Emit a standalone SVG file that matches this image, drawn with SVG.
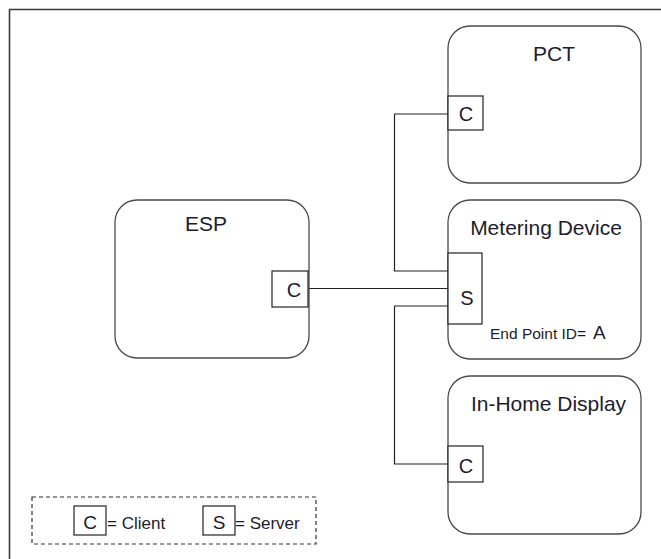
<svg xmlns="http://www.w3.org/2000/svg" width="661" height="559" viewBox="0 0 661 559">
<style>
.frame{fill:none;stroke:#3a3a3a;stroke-width:1.6}
.node{fill:#fff;stroke:#4a4a4a;stroke-width:1.3}
.port{fill:#fff;stroke:#222;stroke-width:1.2}
.wire{fill:none;stroke:#222;stroke-width:1.2}
.t{font-family:"Liberation Sans",Arial,sans-serif;fill:#1c1c2c}
.title{font-size:21px;text-anchor:middle}
.pl{font-size:20px;text-anchor:middle}
.small{font-size:15.5px}
.leg{font-size:17px}
</style>
<rect width="661" height="559" fill="#fff"/>
<path class="frame" d="M9.5,559 V9.5 H661"/>
<g id="connectors">
<path class="wire" d="M308,288.5 H448"/>
<path class="wire" d="M448,114 H394.5 V271 H448"/>
<path class="wire" d="M448,306 H394.5 V464 H448"/>
</g>
<g id="pct">
<rect class="node" x="448" y="26" width="193" height="157" rx="22"/>
<text class="t title" x="554" y="61">PCT</text>
<rect class="port" x="448" y="96" width="35" height="34"/>
<text class="t pl" x="466" y="121">C</text>
</g>
<g id="esp">
<rect class="node" x="115" y="200" width="194" height="158" rx="22"/>
<text class="t title" x="206" y="231">ESP</text>
<rect class="port" x="272" y="271" width="36" height="36"/>
<text class="t pl" x="294" y="297">C</text>
</g>
<g id="metering">
<rect class="node" x="448" y="200" width="193" height="159" rx="22"/>
<text class="t title" x="546" y="235">Metering Device</text>
<rect class="port" x="448" y="253" width="34" height="71"/>
<text class="t pl" x="467" y="305">S</text>
<text class="t small" x="490" y="339">End Point ID=</text>
<text class="t" x="593" y="339" font-size="19">A</text>
</g>
<g id="ihd">
<rect class="node" x="448" y="376" width="193" height="158" rx="22"/>
<text class="t title" x="548.5" y="411">In-Home Display</text>
<rect class="port" x="448" y="446" width="35" height="36"/>
<text class="t pl" x="466" y="473">C</text>
</g>
<g id="legend">
<rect x="32" y="497" width="284" height="47" fill="none" stroke="#333" stroke-width="1.2" stroke-dasharray="4,3"/>
<rect class="port" x="74" y="506" width="32" height="29"/>
<text class="t" x="90" y="529" font-size="19" text-anchor="middle">C</text>
<text class="t leg" x="107" y="529">= Client</text>
<rect class="port" x="203" y="506" width="32" height="29"/>
<text class="t" x="219" y="529" font-size="19" text-anchor="middle">S</text>
<text class="t leg" x="235" y="529">= Server</text>
</g>
</svg>
